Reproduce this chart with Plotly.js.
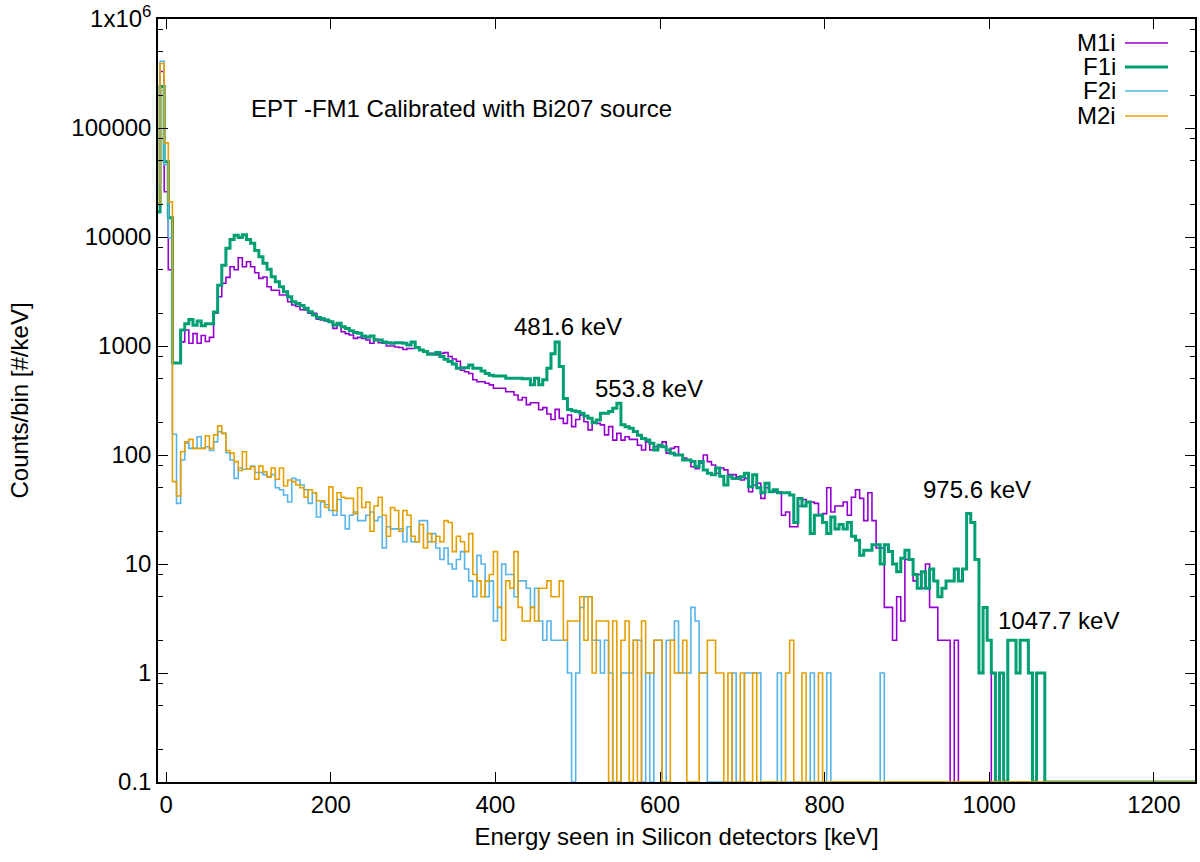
<!DOCTYPE html>
<html>
<head>
<meta charset="utf-8">
<script src="https://cdn.plot.ly/plotly-3.0.1.min.js"></script>
<style>
  html, body { margin: 0; padding: 0; background: #fff; }
  #chart { width: 1200px; height: 862px; }
</style>
</head>
<body>
<div id="chart"></div>
<script>
// bin centres, 5 keV wide bins
var energy = [
  -10, -5, 0, 5, 10, 15, 20, 25, 30, 35,
  40, 45, 50, 55, 60, 65, 70, 75, 80, 85,
  90, 95, 100, 105, 110, 115, 120, 125, 130, 135,
  140, 145, 150, 155, 160, 165, 170, 175, 180, 185,
  190, 195, 200, 205, 210, 215, 220, 225, 230, 235,
  240, 245, 250, 255, 260, 265, 270, 275, 280, 285,
  290, 295, 300, 305, 310, 315, 320, 325, 330, 335,
  340, 345, 350, 355, 360, 365, 370, 375, 380, 385,
  390, 395, 400, 405, 410, 415, 420, 425, 430, 435,
  440, 445, 450, 455, 460, 465, 470, 475, 480, 485,
  490, 495, 500, 505, 510, 515, 520, 525, 530, 535,
  540, 545, 550, 555, 560, 565, 570, 575, 580, 585,
  590, 595, 600, 605, 610, 615, 620, 625, 630, 635,
  640, 645, 650, 655, 660, 665, 670, 675, 680, 685,
  690, 695, 700, 705, 710, 715, 720, 725, 730, 735,
  740, 745, 750, 755, 760, 765, 770, 775, 780, 785,
  790, 795, 800, 805, 810, 815, 820, 825, 830, 835,
  840, 845, 850, 855, 860, 865, 870, 875, 880, 885,
  890, 895, 900, 905, 910, 915, 920, 925, 930, 935,
  940, 945, 950, 955, 960, 965, 970, 975, 980, 985,
  990, 995, 1000, 1005, 1010, 1015, 1020, 1025, 1030, 1035,
  1040, 1045, 1050, 1055, 1060, 1065, 1070, 1075, 1080, 1085,
  1090, 1095, 1100, 1105, 1110, 1115, 1120, 1125, 1130, 1135,
  1140, 1145, 1150, 1155, 1160, 1165, 1170, 1175, 1180, 1185,
  1190, 1195, 1200, 1205, 1210, 1215, 1220, 1225, 1230, 1235,
  1240, 1245, 1250
];

var m1i = [
  20000, 330000, 26000, 5000, 700, 700, 1090, 1400, 1060, 1300,
  1060, 1250, 1100, 1200, 2000, 2830, 3760, 4260, 5340, 5000,
  6450, 5340, 5930, 5340, 4700, 4170, 4300, 3500, 3250, 3250,
  2940, 2940, 2550, 2380, 2300, 2150, 2140, 2000, 2000, 1760,
  1730, 1700, 1670, 1450, 1560, 1350, 1300, 1260, 1175, 1200,
  1175, 1135, 1060, 1150, 1070, 1060, 1000, 1000, 980, 970,
  930, 950, 950, 980, 920, 890, 855, 855, 830, 855,
  870, 800, 760, 725, 600, 580, 560, 490, 470, 470,
  455, 440, 410, 410, 410, 380, 380, 355, 320, 337,
  290, 302, 302, 260, 272, 238, 212, 262, 217, 195,
  233, 182, 212, 233, 202, 170, 202, 195, 189, 153,
  182, 137, 158, 137, 147, 139, 139, 123, 111, 132,
  111, 119, 119, 132, 104, 115, 119, 100, 94, 90,
  78, 75, 84, 100, 87, 81, 68, 76, 73, 66,
  66, 63, 59, 61, 46, 53, 55, 40, 50, 46,
  46, 46, 28, 30, 22, 22, 34, 39, 37, 37,
  36, 28, 29, 50, 30, 34, 34, 37, 28, 41,
  48, 40, 25, 45, 25, 14, 14, 4, 4, 2,
  5, 3, 11, 11, 7, 8, 6, 10, 4, 4,
  2, 2, 2, 0, 2, 0, 0, 0, 0, 0,
  0, 0, 0, 1, 0, 0, 0, 0, 0, 0,
  0, 0, 0, 0, 0, 0, 0, 0, 0, 0,
  0, 0, 0, 0, 0, 0, 0, 0, 0, 0,
  0, 0, 0, 0, 0, 0, 0, 0, 0, 0,
  0, 0, 0, 0, 0, 0, 0, 0, 0, 0,
  0, 0, 0
];

var f1i = [
  17000, 240000, 49000, 15000, 700, 700, 1400, 1600, 1750, 1550,
  1700, 1530, 1600, 1600, 2050, 3600, 5500, 7900, 9500, 10400,
  9900, 10500, 9500, 8760, 7500, 6600, 5740, 5050, 4320, 3890,
  3500, 3150, 2830, 2550, 2450, 2350, 2220, 2060, 1920, 1830,
  1780, 1730, 1670, 1560, 1620, 1500, 1450, 1380, 1330, 1310,
  1235, 1200, 1235, 1135, 1135, 1090, 1070, 1060, 1070, 1070,
  1060, 1020, 1090, 970, 920, 890, 840, 840, 870, 800,
  755, 720, 685, 625, 630, 630, 670, 625, 625, 590,
  560, 540, 530, 530, 530, 505, 505, 505, 505, 500,
  500, 440, 505, 440, 490, 625, 850, 1090, 650, 330,
  262, 255, 250, 241, 228, 217, 198, 210, 241, 241,
  250, 268, 298, 189, 182, 176, 164, 152, 142, 137,
  128, 111, 123, 119, 111, 104, 100, 100, 90, 90,
  87, 78, 87, 73, 68, 66, 76, 64, 53, 64,
  61, 61, 63, 68, 51, 66, 50, 45, 55, 46,
  48, 45, 45, 45, 43, 24, 40, 34, 37, 19,
  28, 28, 24, 19, 27, 21, 23, 21, 24, 18,
  16.5, 12, 13.4, 13.4, 15, 15, 10, 15, 13, 10,
  8.5, 11.3, 13.4, 11, 8, 6, 8.5, 6, 9, 7,
  5, 6, 7, 7, 9, 7, 9, 29, 24, 11,
  1, 4, 2, 1, 0, 1, 0, 2, 2, 1,
  2, 2, 1, 0, 1, 1, 0, 0, 0, 0,
  0, 0, 0, 0, 0, 0, 0, 0, 0, 0,
  0, 0, 0, 0, 0, 0, 0, 0, 0, 0,
  0, 0, 0, 0, 0, 0, 0, 0, 0, 0,
  0, 0, 0
];

var f2i = [
  30000, 410000, 46000, 9800, 155, 36, 90, 128, 115, 115,
  147, 115, 119, 110, 132, 164, 158, 105, 90, 61,
  76, 74, 74, 79, 69, 69, 66, 63, 66, 50,
  48, 43, 37, 61, 59, 53, 48, 36, 45, 27,
  37, 35, 31, 28, 39, 28, 21, 28, 30, 25,
  25, 28, 30, 25, 27, 14, 22, 21, 21, 21,
  16, 22, 16, 16, 25, 25, 16, 19, 14, 11,
  14, 10, 9, 11, 13, 9, 7, 5, 12, 10,
  5, 7, 3, 4, 10, 8, 8, 5, 7, 7,
  6, 4, 6, 3, 2, 3, 2, 2, 2, 2,
  1, 0, 1, 4, 5, 5, 2, 2, 1, 2,
  1, 0, 0, 1, 1, 1, 2, 2, 0, 1,
  0, 2, 2, 0, 2, 2, 3, 1, 1, 1,
  4, 3, 1, 1, 0, 0, 0, 0, 0, 0,
  1, 0, 0, 1, 1, 1, 1, 0, 0, 0,
  0, 1, 0, 0, 0, 0, 0, 0, 0, 1,
  0, 0, 0, 1, 0, 0, 0, 0, 0, 0,
  0, 0, 0, 0, 0, 0, 1, 0, 0, 0,
  0, 0, 0, 0, 0, 0, 0, 0, 0, 0,
  0, 0, 0, 0, 0, 0, 0, 0, 0, 0,
  0, 0, 0, 0, 0, 0, 0, 0, 0, 0,
  0, 0, 0, 0, 0, 0, 0, 0, 0, 0,
  0, 0, 0, 0, 0, 0, 0, 0, 0, 0,
  0, 0, 0, 0, 0, 0, 0, 0, 0, 0,
  0, 0, 0, 0, 0, 0, 0, 0, 0, 0,
  0, 0, 0
];

var m2i = [
  20000, 390000, 73000, 21000, 57, 42, 107, 132, 139, 115,
  115, 115, 150, 115, 153, 185, 158, 110, 104, 87,
  72, 107, 74, 78, 60, 79, 70, 63, 76, 60,
  76, 52, 59, 57, 53, 50, 41, 48, 45, 38,
  38, 33, 51, 31, 45, 41, 40, 40, 29, 50,
  33, 37, 20, 34, 41, 28, 18, 33, 31, 20,
  31, 28, 18, 16, 23, 14, 19, 16, 18, 16,
  25, 24, 13, 18, 16, 13, 19, 8, 7, 5,
  7, 8, 13, 4, 2, 7, 6, 13, 4, 3,
  3, 4, 3, 6, 6, 7, 5, 5, 7, 2,
  3, 3, 3, 5, 2, 5, 1, 3, 3, 3,
  0, 3, 0, 2, 3, 0, 2, 0, 3, 1,
  1, 2, 2, 0, 0, 2, 1, 1, 2, 0,
  0, 0, 1, 1, 2, 2, 1, 1, 0, 1,
  0, 0, 1, 0, 0, 1, 0, 0, 0, 0,
  0, 0, 0, 1, 2, 0, 0, 1, 0, 0,
  0, 1, 0, 0, 0, 0, 0, 0, 0, 0,
  0, 0, 0, 0, 0, 0, 0, 0, 0, 0,
  0, 0, 0, 0, 0, 0, 0, 0, 0, 0,
  0, 0, 0, 0, 0, 0, 0, 0, 0, 0,
  0, 0, 0, 0, 0, 0, 0, 0, 0, 0,
  0, 0, 0, 0, 0, 0, 0, 0, 0, 0,
  0, 0, 0, 0, 0, 0, 0, 0, 0, 0,
  0, 0, 0, 0, 0, 0, 0, 0, 0, 0,
  0, 0, 0, 0, 0, 0, 0, 0, 0, 0,
  0, 0, 0
];

var seriesNames = ['M1i', 'F1i', 'F2i', 'M2i'];
var seriesColors = ['#9400d3', '#009e73', '#56b4e9', '#e69f00'];
var seriesWidths = [1.6, 3, 1.6, 1.6];

var xTicks = [0, 200, 400, 600, 800, 1000, 1200];
var yTicks = [0.1, 1, 10, 100, 1000, 10000, 100000, 1000000];
var yTickText = ['0.1', '1', '10', '100', '1000', '10000', '100000', '1x10<sup>6</sup>'];
var yMinor = [0.2, 0.5, 0.8, 2, 5, 8, 20, 50, 80, 200, 500, 800,
              2000, 5000, 8000, 20000, 50000, 80000, 200000, 500000, 800000];

var peakLabels = ['481.6 keV', '553.8 keV', '975.6 keV', '1047.7 keV'];

// empty bins sit on the bottom of the log axis, like gnuplot clips them
function onLogAxis(arr) {
  return arr.map(function(v) { return v > 0 ? v : 0.1; });
}

var allY = [m1i, f1i, f2i, m2i];
var data = [];
for (var i = 0; i < allY.length; i++) {
  data.push({
    x: energy,
    y: onLogAxis(allY[i]),
    name: seriesNames[i],
    type: 'scatter',
    mode: 'lines',
    line: {shape: 'hvh', color: seriesColors[i], width: seriesWidths[i]},
    hovertemplate: seriesNames[i] + ': %{y}<extra></extra>'
  });
}

// plot box in pixels: x 158..1195, y 19..782
function px(x) { return (x - 158) / 1037; }
function py(y) { return (782 - y) / 763; }

var annotations = [
  {text: 'EPT -FM1 Calibrated with Bi207 source', x: px(249), y: py(108)},
  {text: peakLabels[0], x: px(512), y: py(326)},
  {text: peakLabels[1], x: px(593), y: py(388)},
  {text: peakLabels[2], x: px(921), y: py(489)},
  {text: peakLabels[3], x: px(996), y: py(620)}
].map(function(a) {
  a.xref = 'paper'; a.yref = 'paper';
  a.xanchor = 'left'; a.yanchor = 'middle';
  a.showarrow = false;
  return a;
});

// legend in gnuplot style: name on the left, line sample on the right
var shapes = [];
var legendY = [42, 66, 90, 115];
for (var k = 0; k < seriesNames.length; k++) {
  annotations.push({
    text: seriesNames[k], xref: 'paper', yref: 'paper',
    x: px(1116), y: py(legendY[k]), xanchor: 'right', yanchor: 'middle',
    height: 20, valign: 'middle', borderpad: 0, borderwidth: 0,
    showarrow: false
  });
  shapes.push({
    type: 'line', xref: 'paper', yref: 'paper',
    x0: px(1125), x1: px(1168), y0: py(legendY[k] + 1), y1: py(legendY[k] + 1),
    line: {color: seriesColors[k], width: seriesWidths[k]}
  });
}

var layout = {
  width: 1200,
  height: 862,
  margin: {l: 158, r: 5, t: 19, b: 80, pad: 0},
  paper_bgcolor: '#ffffff',
  plot_bgcolor: '#ffffff',
  font: {family: 'Liberation Sans, Arial, sans-serif', size: 24, color: '#000'},
  showlegend: false,
  hovermode: 'closest',
  xaxis: {
    range: [-10, 1250],
    tickmode: 'array',
    tickvals: xTicks,
    ticks: 'inside',
    ticklen: 10,
    tickwidth: 1,
    tickcolor: '#000',
    showline: true,
    linecolor: '#000',
    linewidth: 1.5,
    mirror: 'ticks',
    showgrid: false,
    zeroline: false,
    layer: 'above traces',
    tickfont: {size: 24},
    title: {text: 'Energy seen in Silicon detectors [keV]', font: {size: 24}, standoff: 12}
  },
  yaxis: {
    type: 'log',
    range: [-1, 6],
    tickmode: 'array',
    tickvals: yTicks,
    ticktext: yTickText,
    ticks: 'inside',
    ticklen: 10,
    tickwidth: 1,
    tickcolor: '#000',
    minor: {tickmode: 'array', tickvals: yMinor, ticks: 'inside', ticklen: 5, tickcolor: '#000', tickwidth: 1},
    showline: true,
    linecolor: '#000',
    linewidth: 1.5,
    mirror: 'ticks',
    showgrid: false,
    zeroline: false,
    layer: 'above traces',
    tickfont: {size: 24},
    title: {text: 'Counts/bin [#/keV]', font: {size: 24}, standoff: 36}
  },
  annotations: annotations,
  shapes: shapes
};

var config = {displayModeBar: false, responsive: false};

Plotly.newPlot('chart', data, layout, config);
</script>
</body>
</html>
